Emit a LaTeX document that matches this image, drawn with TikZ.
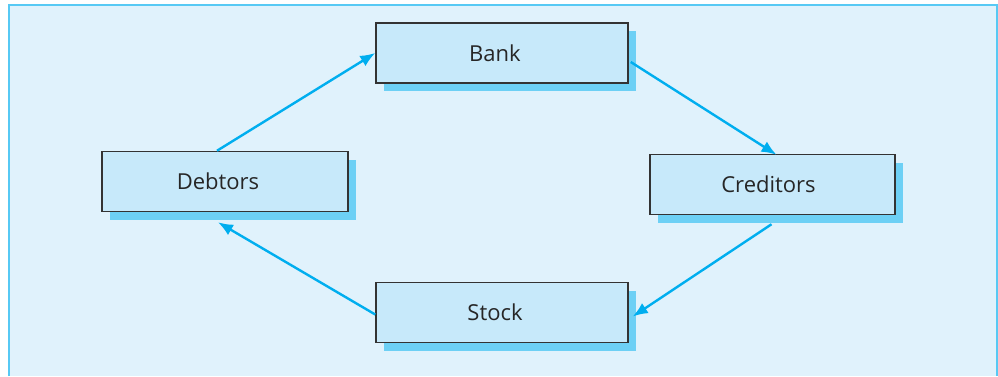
\documentclass[tikz,border=0pt]{standalone}
\usepackage{fontspec}
\setmainfont{Open Sans}
\usetikzlibrary{arrows.meta,shadows}
\definecolor{panel}{HTML}{E0F2FC}
\definecolor{boxfill}{HTML}{C7E9FA}
\definecolor{boxshade}{HTML}{6DD0F5}
\definecolor{flow}{HTML}{00AEEF}
\tikzset{
  acct/.style={draw=black!80, line width=1.5pt, fill=boxfill,
    minimum width=250pt, minimum height=60pt, inner sep=0pt,
    font=\fontsize{22}{25}\selectfont, text=black!85,
    drop shadow={shadow xshift=8pt, shadow yshift=-8pt, fill=boxshade, opacity=1}},
  flowline/.style={draw=flow, line width=2.4pt, -{Latex[length=15pt,width=12pt]}}
}
\begin{document}
\begin{tikzpicture}[x=1pt,y=-1pt]
\useasboundingbox (0,0) rectangle (998,376);
% panel
\fill[panel] (8,4) rectangle (998,376);
\draw[boxshade!80!flow, line width=2pt] (8.5,376) -- (8.5,5) -- (997,5) -- (997,376);

\node[acct, minimum width=252pt] (bank) at (502,53) {\hspace*{-14pt}Bank};
\node[acct, minimum width=246pt] (dbt) at (225,181.5) {\hspace*{-14pt}Debtors};
\node[acct, minimum width=245pt] (cred) at (772.5,184.5) {\hspace*{-8pt}Creditors};
\node[acct, minimum width=252pt] (stock) at (502,312.5) {\hspace*{-14pt}Stock};

\draw[flowline] ([xshift=-8pt]dbt.north) -- (bank.west);
\draw[flowline] ([xshift=2pt,yshift=-9pt]bank.east) -- ([xshift=4pt,yshift=-1pt]cred.north);
\draw[flowline] ([xshift=-1pt,yshift=-9pt]cred.south) -- ([xshift=4pt,yshift=-4pt]stock.east);
\draw[flowline] ([yshift=-2pt]stock.west) -- ([xshift=-7pt,yshift=-10pt]dbt.south);
\end{tikzpicture}
\end{document}
